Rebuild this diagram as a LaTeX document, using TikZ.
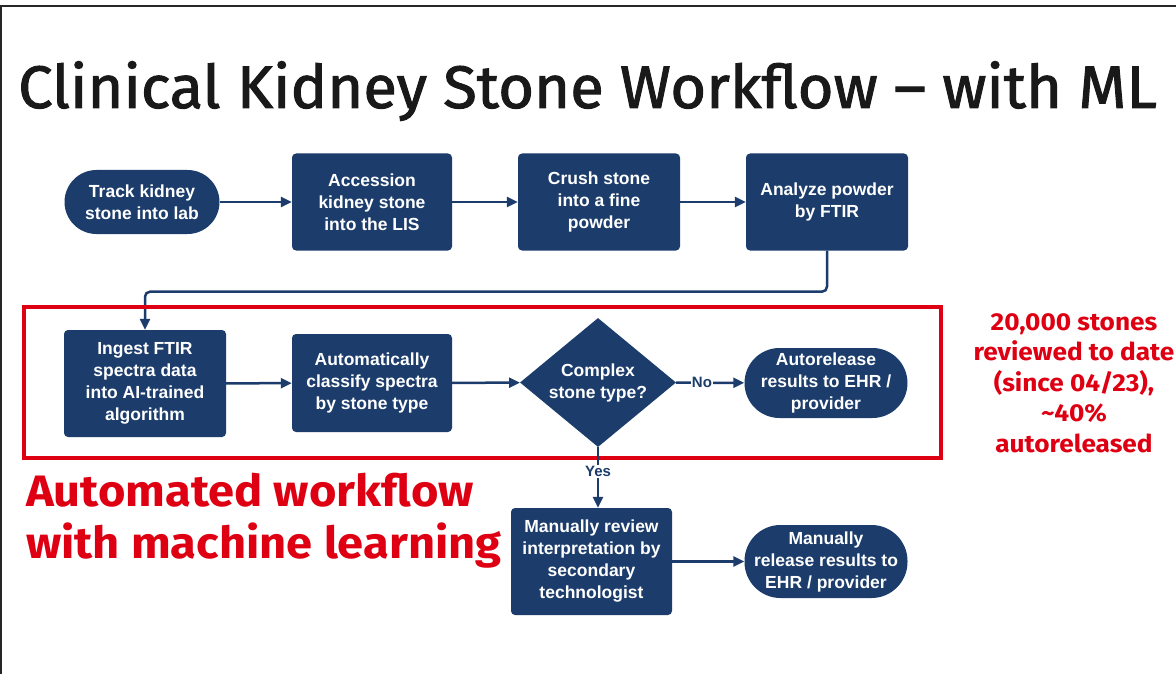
\documentclass[tikz,border=0pt]{standalone}
\usepackage{fontspec}
\setmainfont{Liberation Sans}
\newfontfamily\titlefont[FakeBold=1.6,FakeStretch=1.026]{Fira Sans}
\newfontfamily\redfont[FakeStretch=1.07]{Fira Sans}
\usetikzlibrary{shapes.geometric,arrows.meta}
\definecolor{navy}{RGB}{28,61,108}
\definecolor{hired}{RGB}{222,0,18}
\begin{document}
\begin{tikzpicture}[x=1pt,y=-1pt,
  nodefont/.style={font=\bfseries\fontsize{17.5}{22}\selectfont},
  box/.style={nodefont, rectangle, fill=navy, draw=none, rounded corners=4pt, text=white, align=center, inner sep=0pt},
  pill/.style={nodefont, rectangle, fill=navy, draw=none, text=white, align=center, inner sep=0pt},
  dec/.style={nodefont, diamond, fill=navy, draw=none, text=white, align=center, inner sep=0pt},
  flow/.style={draw=navy, line width=2.5pt, -{Triangle[length=11pt,width=10pt]}},
  lbl/.style={font=\bfseries\fontsize{15}{17}\selectfont, text=navy, fill=white, inner sep=1pt},
  redtext/.style={text=hired, align=center},
]
\useasboundingbox (0,0) rectangle (1176,674);
\fill[white] (0,0) rectangle (1176,674);
% frame lines
\draw[line width=2.5pt, black!85] (0,6) -- (1176,6);
\draw[line width=2.5pt, black!85] (1.2,6) -- (1.2,674);

% title
\node[anchor=base west, inner sep=0pt, font=\titlefont\fontsize{60}{62}\selectfont, text=black!90] (title) at (18,108) {Clinical Kidney Stone Workflow – with ML};

% row 1
\node[pill, rounded corners=32pt, minimum width=155pt, minimum height=64pt] (track) at (142,202) {Track kidney\\stone into lab};
\node[box, minimum width=160pt, minimum height=97pt] (acc) at (372,202) {Accession\\kidney stone\\into the LIS};
\node[box, minimum width=162pt, minimum height=97pt] (crush) at (599,202) {Crush stone\\into a fine\\powder};
\node[box, minimum width=162pt, minimum height=97pt] (ana) at (827,202) {Analyze powder\\by FTIR};

% row 2
\node[box, minimum width=162pt, minimum height=107pt] (ing) at (145,383.5) {Ingest FTIR\\spectra data\\into AI-trained\\algorithm};
\node[box, minimum width=160pt, minimum height=98pt] (cls) at (372,383) {Automatically\\classify spectra\\by stone type};
\node[dec, minimum width=156pt, minimum height=129pt, aspect=1.21] (cx) at (598,382.5) {Complex\\stone type?};
\node[pill, rounded corners=35pt, minimum width=163pt, minimum height=70pt] (auto) at (826,383) {Autorelease\\results to EHR /\\provider};

% row 3
\node[box, minimum width=161pt, minimum height=107pt] (rev) at (591.5,561.5) {Manually review\\interpretation by\\secondary\\technologist};
\node[pill, rounded corners=36pt, minimum width=163pt, minimum height=73pt] (rel) at (826,561.5) {Manually\\release results to\\EHR / provider};

% connectors row 1
\draw[flow] (track) -- (acc);
\draw[flow] (acc) -- (crush);
\draw[flow] (crush) -- (ana);
\draw[flow, rounded corners=5pt] (ana.south) -- ++(0,41) -| (ing.north);

% red frame
\draw[hired, line width=4pt] (24,307) rectangle (941,458);

% connectors row 2
\draw[flow] (ing) -- (cls);
\draw[flow] (cls) -- (cx);
\draw[flow] (cx) -- node[lbl, pos=0.38] {No} (auto);
\draw[flow] (cx.south) -- node[lbl, pos=0.4] {Yes} (cx.south |- rev.north);
\draw[flow] (rev) -- (rel.west |- rev);

% red texts
\node[redtext, font=\redfont\bfseries\fontsize{24.5}{30.5}\selectfont] (stats) at (1074,383) {20,000 stones\\reviewed to date\\(since 04/23),\\\textasciitilde40\%\\autoreleased};
\node[redtext, anchor=north west, align=left, inner sep=0pt, font=\redfont\bfseries\fontsize{44}{52}\selectfont] (ml) at (26,473) {Automated workflow\\with machine learning};
\end{tikzpicture}
\end{document}
